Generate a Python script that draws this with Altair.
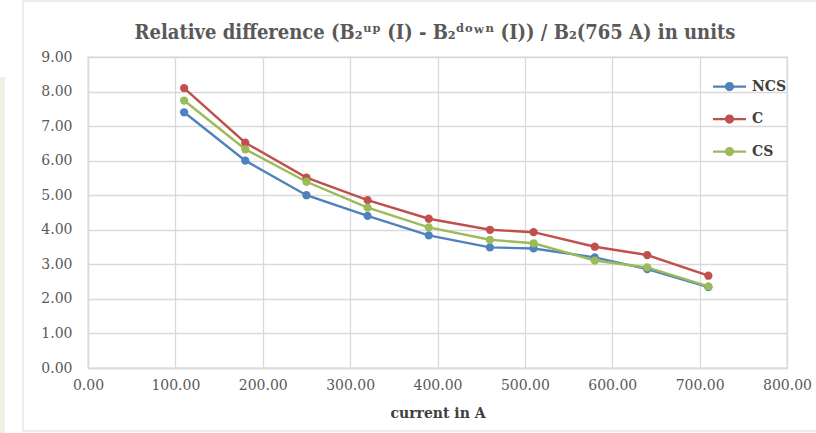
import altair as alt
import pandas as pd

# Measured relative difference per series, in units
current = [110, 180, 250, 320, 390, 460, 510, 580, 640, 710]
ncs = [7.40, 6.00, 5.00, 4.40, 3.84, 3.49, 3.46, 3.20, 2.86, 2.34]
c_vals = [8.10, 6.52, 5.51, 4.86, 4.32, 4.00, 3.93, 3.51, 3.27, 2.67]
cs = [7.74, 6.33, 5.39, 4.64, 4.07, 3.71, 3.61, 3.11, 2.91, 2.36]

series = ["NCS", "C", "CS"]
colors = ["#4F81BD", "#C0504D", "#9BBB59"]
x_ticks = [0, 100, 200, 300, 400, 500, 600, 700, 800]
y_ticks = [0, 1, 2, 3, 4, 5, 6, 7, 8, 9]

title_text = "Relative difference (B₂ᵘᵖ (I) - B₂ᵈᵒʷⁿ (I)) / B₂(765 A) in units"

rows = []
for name, vals in zip(series, [ncs, c_vals, cs]):
    for x, y in zip(current, vals):
        rows.append({"current": x, "value": y, "series": name})
df = pd.DataFrame(rows)

SERIF = "DejaVu Serif"
TITLE_FONT = "'DejaVu Serif Condensed', 'DejaVu Serif', serif"
GRID = "#D9D9D9"
TEXT = "#595959"

# Legend glyph: a line segment with a solid dot (concentric stroked rings)
LEGEND_GLYPH = (
    "M-2.36,0L2.36,0"
    "M0.5,0A0.5,0.5,0,1,1,-0.5,0A0.5,0.5,0,1,1,0.5,0"
    "M0.28,0A0.28,0.28,0,1,1,-0.28,0A0.28,0.28,0,1,1,0.28,0"
    "M0.08,0A0.08,0.08,0,1,1,-0.08,0A0.08,0.08,0,1,1,0.08,0"
)

x_enc = alt.X(
    "current:Q",
    scale=alt.Scale(domain=[0, 800], nice=False, zero=False),
    axis=alt.Axis(
        values=x_ticks, format=".2f", title="current in A",
        grid=True, ticks=False, labelFlush=False,
        labelPadding=10, titlePadding=14,
    ),
)
y_enc = alt.Y(
    "value:Q",
    scale=alt.Scale(domain=[0, 9], nice=False),
    axis=alt.Axis(
        values=y_ticks, format=".2f", title=None,
        grid=True, ticks=False, labelFlush=False, labelPadding=16,
    ),
)
color_scale = alt.Scale(domain=series, range=colors)

lines = alt.Chart(df).mark_line(strokeWidth=2.4).encode(
    x=x_enc,
    y=y_enc,
    color=alt.Color(
        "series:N",
        scale=color_scale,
        sort=series,
        legend=alt.Legend(
            title=None,
            orient="none",
            legendX=633,
            legendY=21,
            symbolType=LEGEND_GLYPH,
            symbolSize=196,
            symbolStrokeWidth=2.25,
            labelOffset=14,
            rowPadding=15.5,
            labelFont=SERIF,
            labelFontSize=14,
            labelFontWeight="bold",
            labelColor="#404040",
        ),
    ),
    order=alt.Order("current:Q"),
)
points = alt.Chart(df).mark_point(filled=True, size=68, opacity=1).encode(
    x=x_enc,
    y=y_enc,
    color=alt.Color("series:N", scale=color_scale, sort=series, legend=None),
)

# Outer chart frame, the faint strip on the far left, and the heading
one = alt.Data(values=[{}])
left_edge = alt.Chart(one).mark_rule(color=GRID, strokeWidth=1).encode(
    x=alt.value(-65), y=alt.value(-56), y2=alt.value(374)
)
top_edge = alt.Chart(one).mark_rule(color=GRID, strokeWidth=1).encode(
    x=alt.value(-65), x2=alt.value(728), y=alt.value(-56)
)
bottom_edge = alt.Chart(one).mark_rule(color=GRID, strokeWidth=1).encode(
    x=alt.value(-65), x2=alt.value(728), y=alt.value(374)
)
strip = alt.Chart(one).mark_rect(color="#EFF0E2").encode(
    x=alt.value(-88), x2=alt.value(-83), y=alt.value(20), y2=alt.value(376)
)
heading = alt.Chart(one).mark_text(
    text=title_text, font=TITLE_FONT, fontSize=20, fontWeight="bold",
    color=TEXT, align="center", baseline="middle",
).encode(x=alt.value(347), y=alt.value(-24))

chart = (
    alt.layer(strip, left_edge, top_edge, bottom_edge, lines, points, heading)
    .properties(
        width=699,
        height=311,
        autosize=alt.AutoSizeParams(type="none"),
        padding={"left": 88, "top": 57, "right": 29, "bottom": 65},
        background="white",
    )
    .configure_view(stroke=GRID, strokeWidth=1.3)
    .configure_axis(
        gridColor=GRID, gridWidth=1.3, domainColor=GRID, domainWidth=1.3,
        labelFont=SERIF, labelFontSize=14, labelColor=TEXT,
        titleFont=SERIF, titleFontSize=14, titleFontWeight="bold", titleColor="#404040",
    )
)

chart.save("out.html", embed_options={"renderer": "svg", "actions": False})
